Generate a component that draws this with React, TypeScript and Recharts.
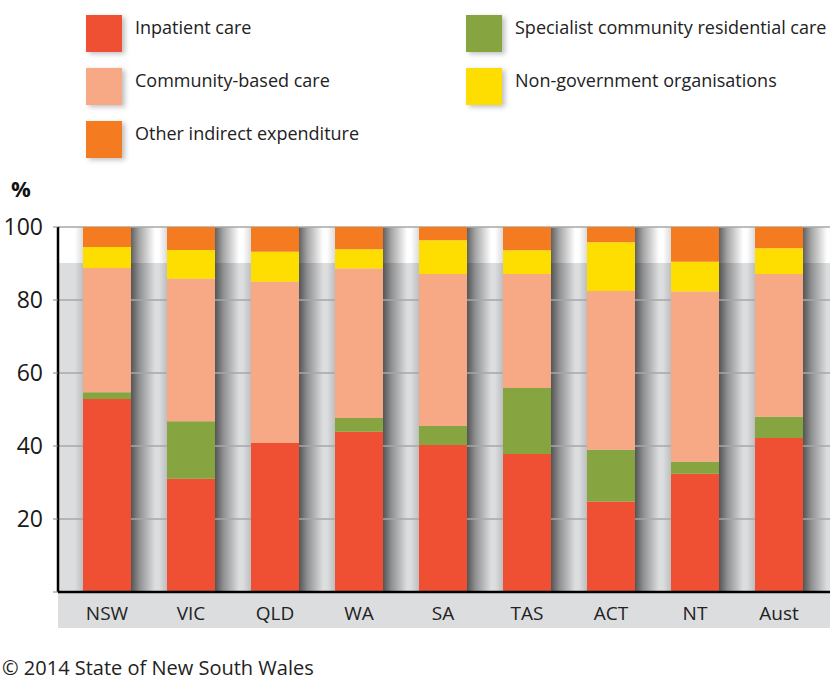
import React from "react"
import { BarChart, Bar, XAxis, YAxis, CartesianGrid } from "recharts"

const states = ["NSW", "VIC", "QLD", "WA", "SA", "TAS", "ACT", "NT", "Aust"]
const inpatient = [52.9, 31.0, 40.8, 43.9, 40.3, 37.8, 24.8, 32.4, 42.2]
const specialist = [1.8, 15.8, 0, 3.8, 5.2, 18.1, 14.2, 3.3, 5.8]
const community = [34.1, 39.0, 44.2, 40.9, 41.6, 31.2, 43.5, 46.6, 39.1]
const ngo = [5.7, 7.9, 8.2, 5.3, 9.3, 6.5, 13.3, 8.2, 7.1]
const other = [5.5, 6.3, 6.8, 6.1, 3.6, 6.4, 4.2, 9.5, 5.8]
const yTicks = [0, 20, 40, 60, 80, 100]

const series = [
  { key: "inpatient", name: "Inpatient care", color: "#ef5033" },
  { key: "specialist", name: "Specialist community residential care", color: "#86a540" },
  { key: "community", name: "Community-based care", color: "#f7a986" },
  { key: "ngo", name: "Non-government organisations", color: "#fedd00" },
  { key: "other", name: "Other indirect expenditure", color: "#f47b20" },
]

const data = states.map((s, i) => ({
  state: s,
  inpatient: inpatient[i],
  specialist: specialist[i],
  community: community[i],
  ngo: ngo[i],
  other: other[i],
  total: inpatient[i] + specialist[i] + community[i] + ngo[i] + other[i],
}))

const font = "'Open Sans', sans-serif"

// soft shadow either side of a full column
const ShadowShape = (props: any) => {
  const { x, y, width, height, index } = props
  const r = "shR" + index
  const l = "shL" + index
  return (
    <g>
      <defs>
        <linearGradient id={r} x1="0" y1="0" x2="1" y2="0">
          <stop offset="0" stopColor="#000" stopOpacity={0.62} />
          <stop offset="0.35" stopColor="#000" stopOpacity={0.35} />
          <stop offset="1" stopColor="#000" stopOpacity={0} />
        </linearGradient>
        <linearGradient id={l} x1="0" y1="0" x2="1" y2="0">
          <stop offset="0" stopColor="#000" stopOpacity={0} />
          <stop offset="1" stopColor="#000" stopOpacity={0.14} />
        </linearGradient>
      </defs>
      <rect x={x + width} y={y} width={24} height={height} fill={`url(#${r})`} />
      <rect x={x - 8} y={y} width={8} height={height} fill={`url(#${l})`} />
    </g>
  )
}

const YTick = (props: any) => {
  const { x, y, payload } = props
  if (payload.value === 0) return null
  return (
    <text x={x - 8} y={y} dy={8} textAnchor="end" fontSize={23} fill="#1a1a1a" fontFamily={font}>
      {payload.value}
    </text>
  )
}

const XTick = (props: any) => {
  const { x, y, payload } = props
  return (
    <text x={x} y={y} dy={20} textAnchor="middle" fontSize={19} fill="#222" fontFamily={font}>
      {payload.value}
    </text>
  )
}

const legendItems = [
  { s: series[0], left: 86, top: 15 },
  { s: series[2], left: 86, top: 68 },
  { s: series[4], left: 86, top: 121 },
  { s: series[1], left: 466, top: 15 },
  { s: series[3], left: 466, top: 68 },
]

export default function App() {
  return (
    <div style={{ position: "absolute", left: 0, top: 0, width: 840, height: 681, background: "#fff", fontFamily: font, overflow: "hidden" }}>
      <div style={{ position: "absolute", left: 58, top: 263, width: 772, height: 365, background: "#dcdddf" }} />

      {legendItems.map(({ s, left, top }) => (
        <div key={s.key} style={{ position: "absolute", left, top, height: 37, display: "flex", alignItems: "flex-start" }}>
          <div style={{ width: 36, height: 37, background: s.color, boxShadow: "3px 2px 5px rgba(0,0,0,0.25)" }} />
          <div style={{ marginLeft: 13, marginTop: 0, fontSize: 18, color: "#222", lineHeight: "24px", whiteSpace: "nowrap" }}>{s.name}</div>
        </div>
      ))}

      <div style={{ position: "absolute", left: 11, top: 173, fontSize: 22, fontWeight: 700, color: "#111" }}>%</div>

      {/* shadow layer */}
      <div style={{ position: "absolute", left: 0, top: 0 }}>
        <BarChart width={840} height={681} data={data} margin={{ top: 227, right: 10, bottom: 89, left: 58 }} barSize={48}>
          <XAxis dataKey="state" hide padding={{ left: 7, right: 9 }} />
          <YAxis hide domain={[0, 100]} allowDataOverflow />
          <Bar dataKey="total" isAnimationActive={false} shape={<ShadowShape />} />
        </BarChart>
      </div>

      <div style={{ position: "absolute", left: 0, top: 0 }}>
        <BarChart width={840} height={681} data={data} margin={{ top: 227, right: 10, bottom: 0, left: 0 }} barSize={48}>
          <CartesianGrid vertical={false} stroke="#a6a7aa" strokeWidth={1.5} />
          <XAxis
            dataKey="state"
            height={89}
            padding={{ left: 7, right: 9 }}
            tickLine={false}
            axisLine={{ stroke: "#000", strokeWidth: 2.5 }}
            tick={<XTick />}
            interval={0}
          />
          <YAxis
            width={58}
            domain={[0, 100]}
            ticks={yTicks}
            tickSize={5}
            tickLine={{ stroke: "#888" }}
            axisLine={{ stroke: "#000", strokeWidth: 2.5 }}
            tick={<YTick />}
            allowDataOverflow
          />
          {series.map((s) => (
            <Bar
              key={s.key}
              dataKey={s.key}
              name={s.name}
              stackId="a"
              fill={s.color}
              isAnimationActive={false}
            />
          ))}
        </BarChart>
      </div>

      <div style={{ position: "absolute", left: 2, top: 654, fontSize: 20, color: "#222", whiteSpace: "nowrap" }}>
        © 2014 State of New South Wales
      </div>
    </div>
  )
}
